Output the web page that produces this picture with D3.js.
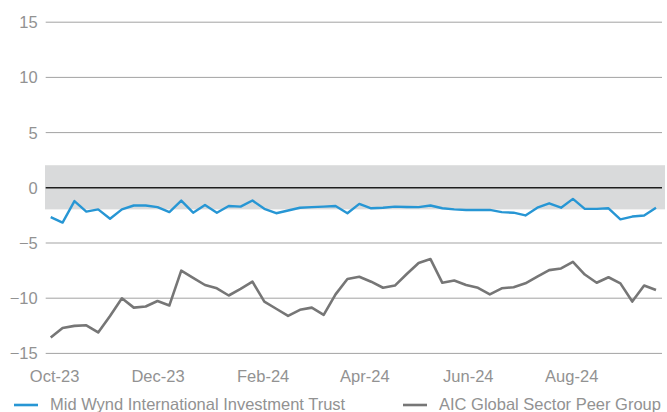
<!DOCTYPE html>
<html>
<head>
<meta charset="utf-8">
<script src="https://d3js.org/d3.v7.min.js"></script>
<style>
  body { margin: 0; background: #fff; }
  text { font-family: "Liberation Sans", Arial, sans-serif; }
</style>
</head>
<body>
<div id="chart"></div>
<script>
// weekly dates (fridays)
const dates = [
  "2023-09-29","2023-10-06","2023-10-13","2023-10-20","2023-10-27","2023-11-03","2023-11-10","2023-11-17",
  "2023-11-24","2023-12-01","2023-12-08","2023-12-15","2023-12-22","2023-12-29","2024-01-05","2024-01-12",
  "2024-01-19","2024-01-26","2024-02-02","2024-02-09","2024-02-16","2024-02-23","2024-03-01","2024-03-08",
  "2024-03-15","2024-03-22","2024-03-29","2024-04-05","2024-04-12","2024-04-19","2024-04-26","2024-05-03",
  "2024-05-10","2024-05-17","2024-05-24","2024-05-31","2024-06-07","2024-06-14","2024-06-21","2024-06-28",
  "2024-07-05","2024-07-12","2024-07-19","2024-07-26","2024-08-02","2024-08-09","2024-08-16","2024-08-23",
  "2024-08-30","2024-09-06","2024-09-13","2024-09-20"
];

// discount (%) - Mid Wynd
const midWynd = [
  -2.7, -3.2, -1.25, -2.2, -2.0, -2.85, -2.0, -1.65, -1.65, -1.8, -2.25, -1.2, -2.3,
  -1.6, -2.3, -1.7, -1.75, -1.2, -1.95, -2.35, -2.1, -1.85, -1.8, -1.75, -1.7, -2.35,
  -1.5, -1.9, -1.85, -1.75, -1.78, -1.8, -1.65, -1.9, -2.0, -2.05, -2.05, -2.05, -2.25,
  -2.3, -2.55, -1.85, -1.45, -1.85, -1.05, -1.95, -1.95, -1.9, -2.9, -2.65, -2.55, -1.85
];

// discount (%) - AIC peer group
const peerGroup = [
  -13.6, -12.75, -12.55, -12.5, -13.15, -11.65, -10.05, -10.9, -10.8, -10.3, -10.7, -7.55, -8.2,
  -8.85, -9.15, -9.8, -9.2, -8.55, -10.35, -11.0, -11.65, -11.1, -10.9, -11.55, -9.7, -8.3,
  -8.1, -8.55, -9.1, -8.9, -7.85, -6.85, -6.5, -8.65, -8.45, -8.85, -9.1, -9.7, -9.15,
  -9.05, -8.7, -8.1, -7.5, -7.35, -6.75, -7.9, -8.65, -8.15, -8.7, -10.35, -8.9, -9.3
];

const yTicks = [-15, -10, -5, 0, 5, 10, 15];
const xTickLabels = ["Oct-23", "Dec-23", "Feb-24", "Apr-24", "Jun-24", "Aug-24"];
const bandRange = [-2, 2];

const seriesNames = ["Mid Wynd International Investment Trust", "AIC Global Sector Peer Group"];
const colors = ["#2796d4", "#767676"];

const width = 667, height = 412;
const gridLeft = 45.7, gridRight = 662, bandRight = 665;
const textColor = "#929292";

const parseDate = d3.timeParse("%Y-%m-%d");
const parseTick = d3.timeParse("%b-%y");

const data = dates.map((d, i) => ({date: parseDate(d), a: midWynd[i], b: peerGroup[i]}));

const svg = d3.select("#chart")
  .append("svg")
  .attr("width", width)
  .attr("height", height);

const x = d3.scaleTime()
  .domain(d3.extent(data, d => d.date))
  .range([50.7, 656]);

const y = d3.scaleLinear()
  .domain([-15, 15])
  .range([352.9, 21.7]);

// grey band
svg.append("rect")
  .attr("x", gridLeft - 0.7)
  .attr("y", y(bandRange[1]))
  .attr("width", bandRight - gridLeft + 0.7)
  .attr("height", y(bandRange[0]) - y(bandRange[1]))
  .attr("fill", "#d9dadb");

// y axis + gridlines
const yAxis = svg.append("g")
  .attr("transform", `translate(${gridLeft},0)`)
  .call(d3.axisLeft(y).tickValues(yTicks).tickSize(-(gridRight - gridLeft)).tickPadding(8).tickFormat(d3.format("d")));
yAxis.select(".domain").remove();
yAxis.selectAll(".tick line")
  .attr("stroke", d => d === 0 ? "#1e1e1e" : "#a3a3a3")
  .attr("stroke-width", d => d === 0 ? 1.4 : 1);
yAxis.selectAll(".tick text")
  .attr("fill", textColor)
  .style("font-size", "16.5px")
  .attr("dy", "0.36em");

// x axis
const xAxis = svg.append("g")
  .attr("transform", "translate(0,358)")
  .call(d3.axisBottom(x).tickValues(xTickLabels.map(parseTick)).tickSize(0).tickPadding(12).tickFormat(d3.timeFormat("%b-%y")));
xAxis.select(".domain").remove();
xAxis.selectAll(".tick text")
  .attr("fill", textColor)
  .style("font-size", "16.5px");

// lines
const keys = ["a", "b"];
keys.forEach((k, i) => {
  svg.append("path")
    .datum(data)
    .attr("fill", "none")
    .attr("stroke", colors[i])
    .attr("stroke-width", i === 0 ? 2.4 : 2.6)
    .attr("stroke-linejoin", "round")
    .attr("d", d3.line()
      .x(d => x(d.date))
      .y(d => y(d[k])));
});

// legend
const legendX = [14, 403];
const legend = svg.selectAll(".legend")
  .data(seriesNames)
  .enter()
  .append("g")
  .attr("transform", (d, i) => `translate(${legendX[i]},405)`);
legend.append("line")
  .attr("x1", 0).attr("x2", 24)
  .attr("stroke", (d, i) => colors[i])
  .attr("stroke-width", 2.6);
legend.append("text")
  .attr("x", 36)
  .attr("y", 5)
  .attr("fill", textColor)
  .style("font-size", "16.5px")
  .text(d => d);
</script>
</body>
</html>
